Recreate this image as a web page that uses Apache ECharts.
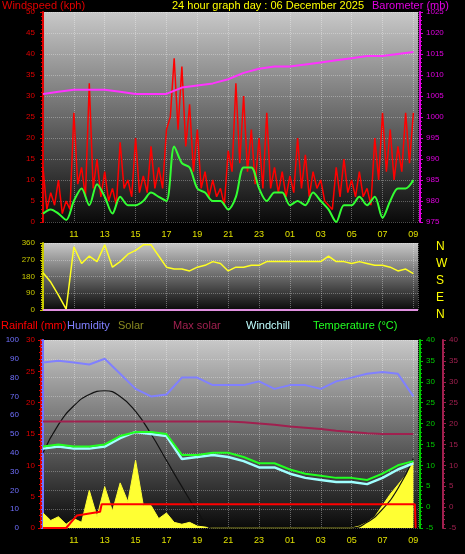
<!DOCTYPE html><html><head><meta charset="utf-8"><script src="https://cdn.jsdelivr.net/npm/echarts@6/dist/echarts.min.js"></script>
<style>html,body{margin:0;background:#000}#c{width:465px;height:554px}</style></head><body><div id="c"></div><script>
// hours after 09:00
const halfHours = [0,0.5,1,1.5,2,2.5,3,3.5,4,4.5,5,5.5,6,6.5,7,7.5,8,8.5,9,9.5,10,10.5,11,11.5,12,12.5,13,13.5,14,14.5,15,15.5,16,16.5,17,17.5,18,18.5,19,19.5,20,20.5,21,21.5,22,22.5,23,23.5,24];
const hours = [0,1,2,3,4,5,6,7,8,9,10,11,12,13,14,15,16,17,18,19,20,21,22,23,24];
const windGust = [13,7,10,5,26,13,33,15,12,8,19,10,20,11,18,13,22,39,37,28,22,12,10,8,17,33,30,22,20,26,13,12,11,20,16,12,10,4,13,15,10,12,8,20,26,22,18,26,26];
const windGustLulls = [3,4,2,3,9,6,8,6,5,4,8,6,7,7,8,8,25,22,18,12,8,6,6,4,12,14,12,9,8,8,7,6,7,8,6,8,5,3,6,7,6,6,4,10,12,10,12,14];
const windAvg  = [2,3,2,0.5,5,8,4,9,6,2,6,4,4,5,7,6,5,18,14,13,8,7,5,5,3,6,13,13,8,5,7,7,4,5,4,7,5,3,0,4,4,6,4,6,1,5,8,8,10];
const barometer = [1005.5,1006,1006.5,1006.5,1006.5,1006,1005.5,1005.5,1005.5,1007,1007.5,1008,1009,1010.5,1011.5,1012,1012,1012.5,1013,1013.5,1014,1014.5,1014.5,1015,1015.5];
const windDir = [200,150,80,5,340,250,290,260,350,230,260,300,320,350,350,290,230,220,220,210,230,240,260,250,210,230,230,240,240,260,260,260,260,260,260,260,260,290,260,260,250,260,250,240,240,230,210,220,195];
const humidity = [88,89,88,87,90,82,74,70,71,80,80,76,76,76,78,74,76,76,74,78,80,82,83,82,70];
const maxSolarCurve = [40,55,65,71,73,70,62,50,36,22,9,0,0,0,0,0,0,0,0,0,0,3,10,21,37];
const solar = [8,4,6,2,5,3,20,6,22,9,24,14,36,12,12,5,8,3,2,3,1,0.5,0,0,0,0,0,0,0,0,0,0,0,0,0,0,0,0,0,0,0,1,3,6,12,18,23,28,35];
const maxSolarTemp = [20.5,20.5,20.5,20.5,20.5,20.5,20.5,20.5,20.5,20.5,20.5,20.5,20.5,20.3,20,19.7,19.3,19,18.7,18.3,18,17.7,17.5,17.5,17.5];
const temperature = [14.5,15,14.5,14.5,15,17,18,18,17.5,12.5,12.5,13,13,12,10.5,10.5,9,8,7.5,7,7,6.5,8,10,11];
const windchill  = [14,14.5,14,14,14.5,16.5,18,17.5,17,11.5,12,12.5,12,11,9.5,9.5,8,7,6.5,6,6,5.5,7,9,10.5];
const rainTimes = [0,1.5,2.2,2.3,3.7,3.8,24.1,24.15];
const rainfall  = [0,0,2,2.3,2.6,3.8,3.8,0];
const xLabels = ['09','11','13','15','17','19','21','23','01','03','05','07','09'];

const zip=(t,v)=>t.map((x,i)=>[x,v[i]]);
const gustData=[];halfHours.forEach((t,i)=>{gustData.push([t,windGust[i]]);if(i<windGustLulls.length)gustData.push([t+0.25,windGustLulls[i]]);});
const F='Liberation Sans, Arial, sans-serif';
const bg={type:'linear',x:0,y:0,x2:0,y2:1,colorStops:[{offset:0,color:'#c8c8c8'},{offset:1,color:'#0a0a0a'}]};
const grids=[
 {left:43,width:375,top:12,height:210,show:true,backgroundColor:bg,borderWidth:0},
 {left:43,width:375,top:243,height:67,show:true,backgroundColor:bg,borderWidth:0},
 {left:43,width:375,top:340,height:188,show:true,backgroundColor:bg,borderWidth:0}];
function xa(g,showLab){return {type:'value',gridIndex:g,min:0,max:24.3,interval:2,
 axisLine:{show:false},axisTick:{show:false},
 splitLine:{show:true,lineStyle:{color:'rgba(255,255,255,0.35)',type:'dotted'}},
 axisLabel:{show:showLab,color:'#e0e000',fontSize:9,fontFamily:F,showMaxLabel:false,showMinLabel:false,margin:8,
  formatter:v=>xLabels[Math.round(v/2)]}};}
function ya(g,min,max,iv,col,pos,off,showSplit,extra){return Object.assign({type:'value',gridIndex:g,min,max,interval:iv,position:pos,offset:off,
 axisLine:{show:true,lineStyle:{color:col,width:2}},axisTick:{show:true,length:3,lineStyle:{color:col}},minorTick:{show:true,splitNumber:5,length:2,lineStyle:{color:col}},
 axisLabel:{color:col,fontSize:8,fontFamily:F,margin:6,formatter:v=>String(v)},
 splitLine:{show:showSplit,lineStyle:{color:'rgba(255,255,255,0.3)',type:'dotted'}}},extra||{});}
const ln=(xi,yi,data,color,w,extra)=>Object.assign({type:'line',xAxisIndex:xi,yAxisIndex:yi,data,showSymbol:false,lineStyle:{color,width:w},itemStyle:{color},animation:false},extra||{});
const opt={backgroundColor:'#000',animation:false,grid:grids,
 xAxis:[xa(0,true),xa(1,false),xa(2,true)],
 yAxis:[ya(0,0,50,5,'#e00000','left',2,true),
  ya(0,975,1025,5,'#e000e0','right',2,false),
  ya(1,0,360,90,'#c8c800','left',2,true,{minorTick:{show:true,splitNumber:9,length:2,lineStyle:{color:'#c8c800'}}}),
  ya(2,0,100,10,'#7070ff','left',18,true),
  ya(2,0,30,5,'#e00000','left',2,false),
  ya(2,-5,40,5,'#00c800','right',2,false),
  ya(2,-5,40,5,'#a0204f','right',25,false)],
 series:[
  ln(0,0,gustData,'#ff0000',1.5),
  ln(0,0,zip(halfHours,windAvg),'#33ff33',2,{smooth:0.3}),
  ln(0,1,zip(hours,barometer),'#ff33ff',2),
  ln(1,2,zip(halfHours,windDir),'#ffff22',1.5),
  ln(1,2,[[0,0],[24.3,0]],'#e090e0',2),
  ln(2,3,zip(halfHours,solar),'#ffff33',1,{areaStyle:{color:'#ffff33',opacity:1}}),
  ln(2,3,zip(hours,maxSolarCurve),'#111',1.2,{smooth:true}),
  ln(2,3,zip(hours,humidity),'#8080ff',2),
  ln(2,6,zip(hours,maxSolarTemp),'#a0204f',2),
  ln(2,5,zip(hours,windchill),'#a0ffff',2.5),
  ln(2,5,zip(hours,temperature),'#22ff22',2),
  ln(2,4,zip(rainTimes,rainfall),'#ff0000',2)],
 graphic:[
  {type:'text',left:2,top:0,style:{text:'Windspeed (kph)',fill:'#e00000',font:'11px '+F}},
  {type:'text',left:172,top:0,style:{text:'24 hour graph day : 06 December 2025',fill:'#ffff00',font:'11px '+F}},
  {type:'text',left:372,top:0,style:{text:'Barometer (mb)',fill:'#e000e0',font:'11px '+F}},
  {type:'text',left:1,top:320,style:{text:'Rainfall (mm)',fill:'#ff0000',font:'11px '+F}},
  {type:'text',left:67,top:320,style:{text:'Humidity',fill:'#8080ff',font:'11px '+F}},
  {type:'text',left:118,top:320,style:{text:'Solar',fill:'#8a8a20',font:'11px '+F}},
  {type:'text',left:173,top:320,style:{text:'Max solar',fill:'#a0204f',font:'11px '+F}},
  {type:'text',left:246,top:320,style:{text:'Windchill',fill:'#c0ffff',font:'11px '+F}},
  {type:'text',left:313,top:320,style:{text:'Temperature (°C)',fill:'#22ff22',font:'11px '+F}},
  {type:'text',left:436,top:238,style:{text:'N\nW\nS\nE\nN',fill:'#ffff00',font:'12px '+F,lineHeight:17}}
 ]};
const ch=echarts.init(document.getElementById('c'));ch.setOption(opt);
</script></body></html>
